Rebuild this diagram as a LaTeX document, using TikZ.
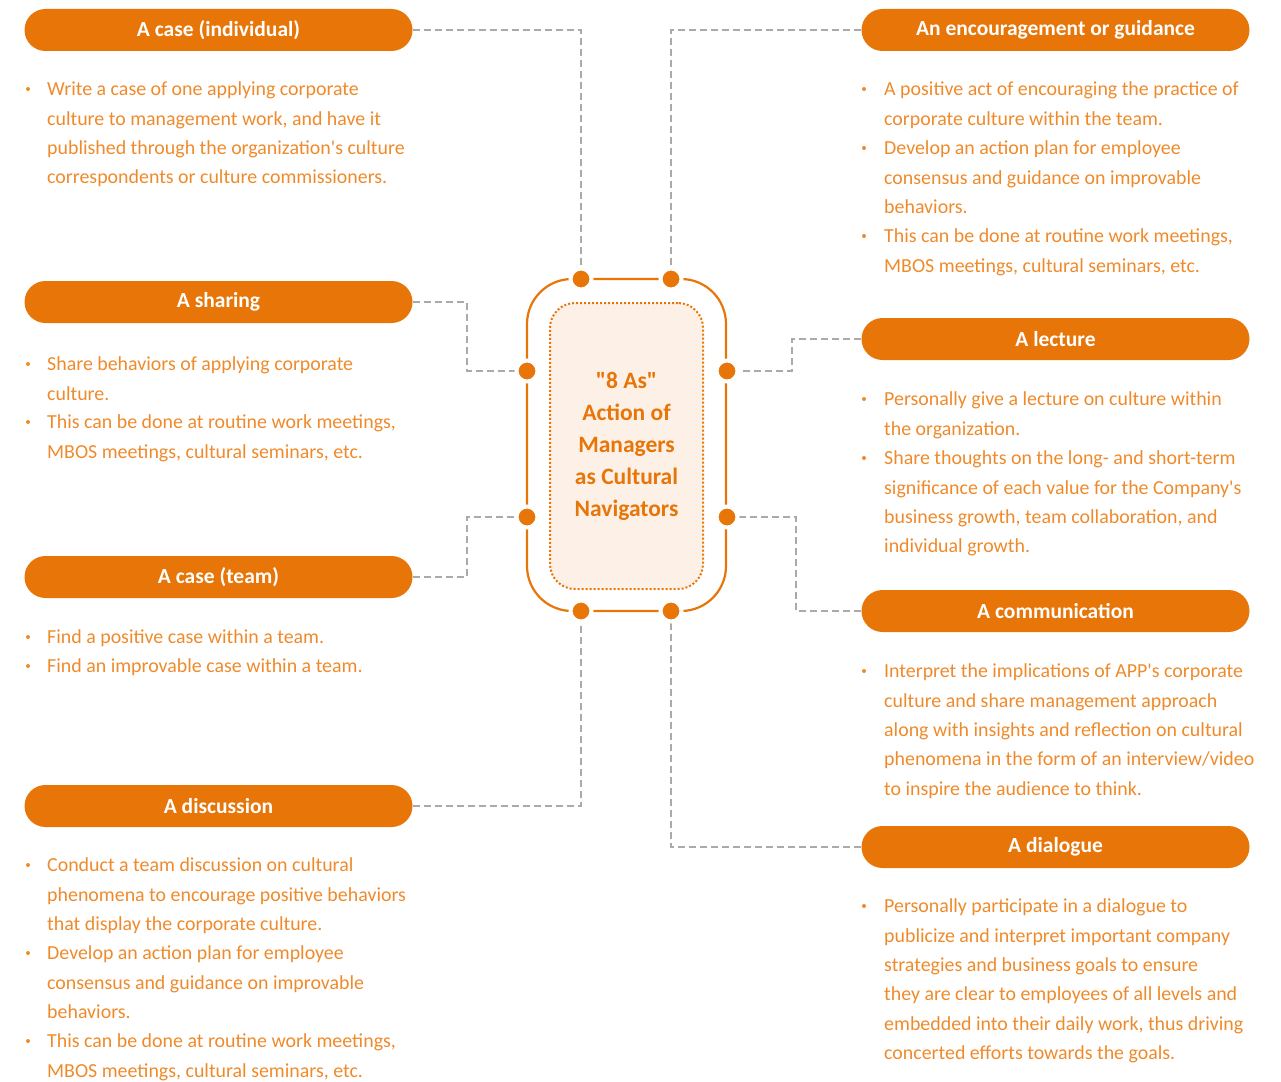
\documentclass[tikz,border=0pt]{standalone}
\usepackage{fontspec}
\setmainfont{Carlito}[Ligatures=TeXOff]
\definecolor{pill}{HTML}{E87508}
\definecolor{txt}{HTML}{EF8A2B}
\definecolor{con}{HTML}{AAAAAA}
\definecolor{corefill}{HTML}{FDF1E7}
\begin{document}
\begin{tikzpicture}[x=1pt,y=-1pt,
  pillbox/.style={fill=pill, rounded corners=21pt, minimum width=388pt, minimum height=42pt, text=white, font=\fontsize{21.5}{24}\selectfont\bfseries, inner sep=0},
  item/.style={anchor=north west, align=left, text=txt, inner sep=0, font=\fontsize{19.9}{29.4}\selectfont},
  bul/.style={circle, fill=txt, inner sep=0, minimum size=4pt},
  link/.style={draw=con, line width=2pt, dash pattern=on 7pt off 4pt},
  dot/.style={circle, fill=pill, draw=white, line width=4pt, minimum size=21pt, inner sep=0},
]
\useasboundingbox (0,0) rectangle (1281,1081);

% headers
\node[pillbox] (p1) at (218.5,30) {A case (individual)};
\node[pillbox] (p2) at (218.5,302) {A sharing};
\node[pillbox] (p3) at (218.5,577) {A case (team)};
\node[pillbox] (p4) at (218.5,806) {A discussion};
\node[pillbox] (p5) at (1055.5,30) {An encouragement or guidance};
\node[pillbox] (p6) at (1055.5,339) {A lecture};
\node[pillbox] (p7) at (1055.5,611) {A communication};
\node[pillbox] (p8) at (1055.5,847) {A dialogue};

% centre
\node[draw=pill, line width=2.2pt, rounded corners=45pt, minimum width=199pt, minimum height=332pt, inner sep=0] (outer) at (626.5,445) {};
\node[draw=pill, fill=corefill, line width=2pt, dotted, rounded corners=25pt, minimum width=153pt, minimum height=286pt, inner sep=0, align=center, text=pill, font=\fontsize{23.5}{32}\selectfont\bfseries] (core) at (626.5,446) {"8 As"\\Action of\\Managers\\as Cultural\\Navigators};

% dots positions
\coordinate (c1) at (581,279);
\coordinate (c2) at (671,279);
\coordinate (c3) at (527,371);
\coordinate (c4) at (727,371);
\coordinate (c5) at (527,517);
\coordinate (c6) at (727,517);
\coordinate (c7) at (581,611);
\coordinate (c8) at (671,611);

% connectors
\draw[link] (p1.east) -| (c1);
\draw[link] (p5.west) -| (c2);
\draw[link] (p2.east) -- ++(54,0) |- (c3);
\draw[link] (p6.west) -- ++(-69,0) |- (c4);
\draw[link] (p3.east) -- ++(54,0) |- (c5);
\draw[link] (p7.west) -- ++(-65,0) |- (c6);
\draw[link] (p4.east) -| (c7);
\draw[link] (p8.west) -| (c8);

\foreach \i in {1,...,8} \node[dot] (d\i) at (c\i) {};

% left items
\node[bul] (b1) at (28,89) {};
\node[item] (t1) at (47,75) {\strut Write a case of one applying corporate\\culture to management work, and have it\\published through the organization's culture\\correspondents or culture commissioners.};

\node[bul] (b2) at (28,364) {};
\node[item] (t2) at (47,350) {\strut Share behaviors of applying corporate\\culture.};
\node[bul] (b3) at (28,422) {};
\node[item] (t3) at (47,408) {\strut This can be done at routine work meetings,\\MBOS meetings, cultural seminars, etc.};

\node[bul] (b4) at (28,637) {};
\node[item] (t4) at (47,623) {\strut Find a positive case within a team.};
\node[bul] (b5) at (28,666) {};
\node[item] (t5) at (47,652) {\strut Find an improvable case within a team.};

\node[bul] (b6) at (28,865) {};
\node[item] (t6) at (47,851) {\strut Conduct a team discussion on cultural\\phenomena to encourage positive behaviors\\that display the corporate culture.};
\node[bul] (b7) at (28,953) {};
\node[item] (t7) at (47,939) {\strut Develop an action plan for employee\\consensus and guidance on improvable\\behaviors.};
\node[bul] (b8) at (28,1041) {};
\node[item] (t8) at (47,1027) {\strut This can be done at routine work meetings,\\MBOS meetings, cultural seminars, etc.};

% right items
\node[bul] (b9) at (864,89) {};
\node[item] (t9) at (884,75) {\strut A positive act of encouraging the practice of\\corporate culture within the team.};
\node[bul] (b10) at (864,148) {};
\node[item] (t10) at (884,134) {\strut Develop an action plan for employee\\consensus and guidance on improvable\\behaviors.};
\node[bul] (b11) at (864,236) {};
\node[item] (t11) at (884,222) {\strut This can be done at routine work meetings,\\MBOS meetings, cultural seminars, etc.};

\node[bul] (b12) at (864,399) {};
\node[item] (t12) at (884,385) {\strut Personally give a lecture on culture within\\the organization.};
\node[bul] (b13) at (864,458) {};
\node[item] (t13) at (884,444) {\strut Share thoughts on the long- and short-term\\significance of each value for the Company's\\business growth, team collaboration, and\\individual growth.};

\node[bul] (b14) at (864,671) {};
\node[item] (t14) at (884,657) {\strut Interpret the implications of APP's corporate\\culture and share management approach\\along with insights and reflection on cultural\\phenomena in the form of an interview/video\\to inspire the audience to think.};

\node[bul] (b15) at (864,906) {};
\node[item] (t15) at (884,892) {\strut Personally participate in a dialogue to\\publicize and interpret important company\\strategies and business goals to ensure\\they are clear to employees of all levels and\\embedded into their daily work, thus driving\\concerted efforts towards the goals.};
\end{tikzpicture}
\end{document}
